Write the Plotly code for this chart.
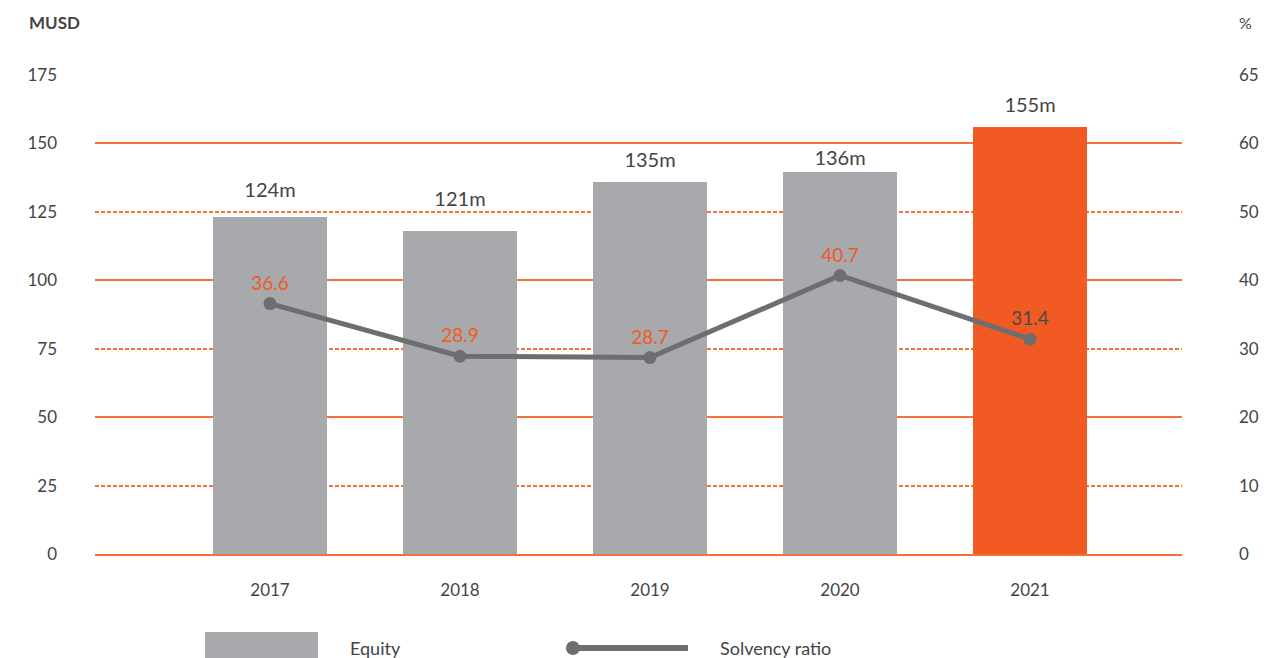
import plotly.graph_objects as go

# data
years = ["2017", "2018", "2019", "2020", "2021"]
equity_bar_height = [123.1, 118.1, 135.9, 139.6, 156.0]   # drawn bar tops (MUSD)
equity_label_value = [124, 121, 135, 136, 155]            # printed labels (MUSD)
solvency_ratio = [36.6, 28.9, 28.7, 40.7, 31.4]           # %

left_major_ticks = [0, 50, 100, 150]
left_minor_ticks = [25, 75, 125, 175]
right_tickvals = [0, 10, 20, 30, 40, 50, 60, 70]
right_ticktext = ["0", "10", "20", "30", "40", "50", "60", "65"]

GREY = "#a7a9ac"
ORANGE = "#f15a22"
GRID = "#f47238"
LINE = "#6d6e71"
TEXT = "#444444"
FONT = "Lato"

xpos = list(range(len(years)))
bar_colors = [GREY] * (len(years) - 1) + [ORANGE]
label_colors = [ORANGE] * (len(years) - 1) + ["#4a4a4a"]

fig = go.Figure()
fig.add_trace(go.Bar(x=xpos, y=equity_bar_height, width=0.595,
                     marker=dict(color=bar_colors, line=dict(width=0)),
                     name="Equity", yaxis="y"))
fig.add_trace(go.Scatter(x=xpos, y=solvency_ratio, yaxis="y2",
                         mode="lines+markers+text",
                         line=dict(color=LINE, width=5),
                         marker=dict(color=LINE, size=13),
                         text=["%.1f" % v for v in solvency_ratio],
                         textposition="top center",
                         textfont=dict(family=FONT, size=19, color=label_colors),
                         name="Solvency ratio"))
# printed equity values, sitting above each bar (on the dashed-grid axis)
fig.add_trace(go.Scatter(x=xpos, y=equity_label_value, yaxis="y3",
                         mode="markers+text",
                         marker=dict(size=18, opacity=0),
                         text=["%dm" % v for v in equity_label_value],
                         textposition="top center",
                         textfont=dict(family=FONT, size=20, color=TEXT),
                         hoverinfo="skip", name="labels"))

# axis titles
fig.add_annotation(x=-0.0626, y=1.1106, xref="paper", yref="paper", text="<b>MUSD</b>",
                   showarrow=False, xanchor="left", yanchor="middle",
                   font=dict(family=FONT, size=17, color=TEXT))
fig.add_annotation(x=1.058, y=1.1106, xref="paper", yref="paper", text="%",
                   showarrow=False, xanchor="center", yanchor="middle",
                   font=dict(family=FONT, size=16, color=TEXT))

# hand-made legend below the plot
fig.add_shape(type="rect", xref="paper", yref="paper", x0=0.1012, x1=0.2052,
              y0=-0.235, y1=-0.1628, fillcolor=GREY, line=dict(width=0))
fig.add_shape(type="line", xref="paper", yref="paper", x0=0.4397, x1=0.5455,
              y0=-0.1962, y1=-0.1962, line=dict(color=LINE, width=6))
fig.add_shape(type="circle", xref="paper", yref="paper", xsizemode="pixel", ysizemode="pixel",
              xanchor=0.4397, yanchor=-0.1962, x0=-7, x1=7, y0=-7, y1=7,
              fillcolor=LINE, line=dict(width=0))
fig.add_annotation(x=0.2328, y=-0.1962, xref="paper", yref="paper", text="Equity",
                   showarrow=False, xanchor="left", yanchor="middle",
                   font=dict(family=FONT, size=18, color=TEXT))
fig.add_annotation(x=0.5731, y=-0.1962, xref="paper", yref="paper", text="Solvency ratio",
                   showarrow=False, xanchor="left", yanchor="middle",
                   font=dict(family=FONT, size=18, color=TEXT))

fig.update_layout(
    width=1280, height=650,
    margin=dict(l=87, r=106, t=67, b=104),
    paper_bgcolor="white", plot_bgcolor="white",
    font=dict(family=FONT, size=17, color=TEXT),
    showlegend=False,
    bargap=0,
    xaxis=dict(range=[-0.921, 4.8], tickvals=xpos, ticktext=years,
               showgrid=False, zeroline=False, showline=True,
               linecolor=GRID, linewidth=1.5, ticks="",
               ticklabelstandoff=20, tickfont=dict(size=17, color=TEXT)),
    yaxis=dict(range=[0, 175], tickvals=left_major_ticks, showgrid=True,
               gridcolor=GRID, gridwidth=1.5, zeroline=False, ticks="",
               ticklabelstandoff=37, tickfont=dict(size=17, color=TEXT)),
    yaxis3=dict(range=[0, 175], overlaying="y", side="left", tickvals=left_minor_ticks,
                showgrid=True, gridcolor=GRID, gridwidth=1.5, griddash="4px,2px",
                zeroline=False, ticks="", ticklabelstandoff=37,
                tickfont=dict(size=17, color=TEXT)),
    yaxis2=dict(range=[0, 70], overlaying="y", side="right", tickvals=right_tickvals,
                ticktext=right_ticktext, showgrid=False, zeroline=False, ticks="",
                ticklabelstandoff=56, tickfont=dict(size=17, color=TEXT)),
)

fig.write_html("out.html")
